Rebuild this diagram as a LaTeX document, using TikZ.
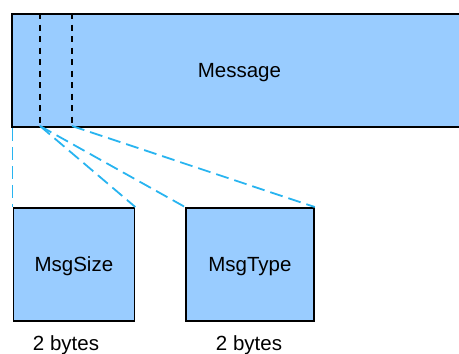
\documentclass[tikz,border=0pt]{standalone}
\usepackage{fontspec}
\setmainfont{Liberation Sans}
\definecolor{boxfill}{RGB}{153,204,255}
\definecolor{linkblue}{RGB}{40,180,240}
\begin{document}
\begin{tikzpicture}[x=1pt,y=-1pt,
  box/.style={draw=black, line width=1.8pt, fill=boxfill, inner sep=0pt,
    anchor=north west, font=\fontsize{20.5}{24}\selectfont,
    text height=14.7pt, text depth=0pt},
  divider/.style={draw=black, line width=1.8pt, dash pattern=on 6pt off 5.5pt},
  link/.style={draw=linkblue, line width=1.8pt, dash pattern=on 13pt off 6pt},
  sizelabel/.style={anchor=base, inner sep=0pt, font=\fontsize{20.5}{24}\selectfont}]
\clip (0,0) rectangle (459,354);
\node[box, minimum width=455pt, minimum height=113pt] (msg) at (11,13) {Message};
\coordinate (d1t) at (40,13);
\coordinate (d1b) at (40,126);
\coordinate (d2t) at (72,13);
\coordinate (d2b) at (72,126);
\draw[divider] (d1t) -- (d1b);
\draw[divider] (d2t) -- (d2b);
\node[box, minimum width=121pt, minimum height=113pt] (size) at (12.5,207) {MsgSize};
\node[box, minimum width=128pt, minimum height=113pt] (type) at (185,207) {MsgType};
\draw[link] (size.north west |- msg.south) -- (size.north west);
\draw[link] (d1b) -- (size.north east);
\draw[link] (d1b) -- (type.north west);
\draw[link] (d2b) -- (type.north east);
\node[sizelabel] (sizebytes) at (66,350) {2 bytes};
\node[sizelabel] (typebytes) at (249,350) {2 bytes};
\end{tikzpicture}
\end{document}
